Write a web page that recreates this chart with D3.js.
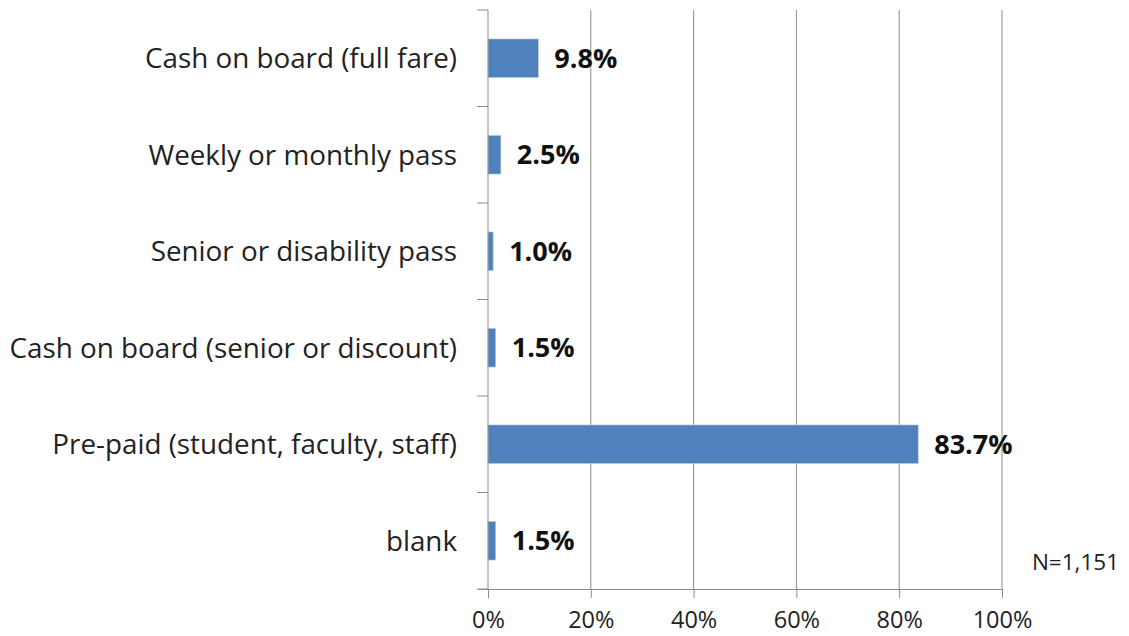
<!DOCTYPE html>
<html>
<head>
<meta charset="utf-8">
<script src="https://cdn.jsdelivr.net/npm/d3@7"></script>
<style>
  body { margin: 0; background: #fff; }
  svg text { font-family: "Open Sans", Lato, sans-serif; }
</style>
</head>
<body>
<div id="chart"></div>
<script>
// chart data
const categories = [
  "Cash on board (full fare)",
  "Weekly or monthly pass",
  "Senior or disability pass",
  "Cash on board (senior or discount)",
  "Pre-paid (student, faculty, staff)",
  "blank"
];
const values = [9.8, 2.5, 1.0, 1.5, 83.7, 1.5];
const tickValues = [0, 20, 40, 60, 80, 100];
const note = "N=1,151";

const width = 1129, height = 636;
const plotLeft = 488, plotRight = 1002, plotTop = 10, plotBottom = 589;

const svg = d3.select("#chart")
              .append("svg")
              .attr("width", width)
              .attr("height", height);

const x = d3.scaleLinear().domain([0, 100]).range([plotLeft, plotRight]);
const y = d3.scaleBand().domain(categories).range([plotTop, plotBottom]).paddingInner(0.6).paddingOuter(0.3);

// vertical gridlines
svg.append("g")
   .selectAll("line")
   .data(tickValues.slice(1))
   .join("line")
   .attr("x1", d => x(d))
   .attr("x2", d => x(d))
   .attr("y1", plotTop)
   .attr("y2", plotBottom)
   .attr("stroke", "#8c8c8c")
   .attr("stroke-width", 1);

// bars
svg.append("g")
   .selectAll("rect")
   .data(values)
   .join("rect")
   .attr("x", x(0))
   .attr("y", (d, i) => y(categories[i]))
   .attr("width", d => x(d) - x(0))
   .attr("height", y.bandwidth())
   .attr("fill", "#4f81bd")
   .attr("stroke", "#b9cde5")
   .attr("stroke-width", 0.6);

// value labels
svg.append("g")
   .selectAll("text")
   .data(values)
   .join("text")
   .attr("x", d => x(d) + 16)
   .attr("y", (d, i) => y(categories[i]) + y.bandwidth() / 2)
   .attr("dy", "0.36em")
   .attr("font-size", "27px")
   .attr("font-weight", "bold")
   .attr("fill", "#111")
   .text(d => d.toFixed(1) + "%");

// x axis
const xAxis = svg.append("g")
   .attr("transform", `translate(0,${plotBottom})`)
   .call(d3.axisBottom(x).tickValues(tickValues).tickFormat(d => d + "%").tickSize(9).tickPadding(13));
xAxis.select(".domain").attr("stroke", "#8c8c8c").attr("d", `M${plotLeft - 10},0.5H${plotRight}`);
xAxis.selectAll(".tick line").attr("stroke", "#8c8c8c");
xAxis.selectAll(".tick text")
     .attr("font-size", "23.5px")
     .attr("font-family", "'Open Sans', sans-serif")
     .attr("fill", "#222");

// y axis (category ticks at band boundaries)
const step = (plotBottom - plotTop) / categories.length;
const yEdges = d3.range(categories.length + 1).map(i => plotTop + i * step);
svg.append("line")
   .attr("x1", plotLeft).attr("x2", plotLeft)
   .attr("y1", plotTop).attr("y2", plotBottom)
   .attr("stroke", "#8c8c8c");
svg.append("g")
   .selectAll("line")
   .data(yEdges)
   .join("line")
   .attr("x1", plotLeft - 11).attr("x2", plotLeft)
   .attr("y1", d => d).attr("y2", d => d)
   .attr("stroke", "#8c8c8c");

svg.append("g")
   .selectAll("text")
   .data(categories)
   .join("text")
   .attr("x", plotLeft - 31)
   .attr("y", d => y(d) + y.bandwidth() / 2)
   .attr("dy", "0.36em")
   .attr("text-anchor", "end")
   .attr("font-size", "27.8px")
   .attr("fill", "#222")
   .text(d => d);

// sample size note
svg.append("text")
   .attr("x", 1119)
   .attr("y", 570)
   .attr("text-anchor", "end")
   .attr("font-size", "22.5px")
   .attr("fill", "#222")
   .text(note);
</script>
</body>
</html>
